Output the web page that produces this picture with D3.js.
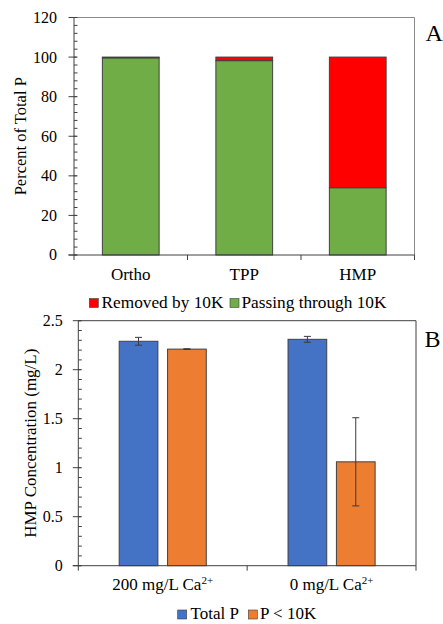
<!DOCTYPE html>
<html>
<head>
<meta charset="utf-8">
<script src="https://cdn.jsdelivr.net/npm/d3@7"></script>
<style>
  html, body { margin: 0; padding: 0; background: #fff; }
  svg { display: block; }
</style>
</head>
<body>
<svg id="fig" width="443" height="624"></svg>
<script>
// Panel A: share of total P passing through / removed by a 10K membrane
const phosphateForms = ["Ortho", "TPP", "HMP"];
const passingPct = [99.6, 98.2, 34.0];
const removedPct = [0.4, 1.8, 66.0];
const seriesA = ["Removed by 10K", "Passing through 10K"];

// Panel B: HMP concentration with and without calcium
const calciumLevels = ["200 mg/L Ca", "0 mg/L Ca"];
const calciumSup = "2+";
const totalP = [2.29, 2.31];
const totalPErr = [0.04, 0.03];
const pBelow10K = [2.21, 1.06];
const pBelow10KErr = [0.004, 0.45];
const seriesB = ["Total P", "P < 10K"];

const yTicksA = [0, 20, 40, 60, 80, 100, 120];
const yTicksB = [0, 0.5, 1, 1.5, 2, 2.5];

const SERIF = "'Liberation Serif', 'Times New Roman', serif";
const svg = d3.select("#fig");
const TICK_FONT = 16;
const LABEL_FONT = 17;
const axisColor = "#404040";
const barStroke = "#404040";

// all labels share one serif face
function label(g, txt, size) {
  return g.append("text").style("font-family", SERIF).attr("font-size", size || LABEL_FONT)
    .attr("fill", "#000").text(txt);
}

function drawYAxis(g, y, x0, ticks, minorStep, fmt, labelGap) {
  const [d0, d1] = y.domain();
  const minor = d3.range(d0, d1 + 1e-9, minorStep);
  g.selectAll(".minor").data(minor).join("line")
    .attr("x1", x0).attr("x2", x0 + 3.5)
    .attr("y1", d => y(d)).attr("y2", d => y(d))
    .attr("stroke", axisColor).attr("stroke-width", 1);
  g.selectAll(".major").data(ticks).join("line")
    .attr("x1", x0 - 5.5).attr("x2", x0 + 2.5)
    .attr("y1", d => y(d)).attr("y2", d => y(d))
    .attr("stroke", axisColor).attr("stroke-width", 1);
  g.selectAll(".ylab").data(ticks).join("text")
    .style("font-family", SERIF)
    .attr("x", x0 - labelGap).attr("y", d => y(d)).attr("dy", "0.34em")
    .attr("text-anchor", "end").attr("font-size", TICK_FONT).attr("fill", "#000")
    .text(fmt);
  g.append("line").attr("x1", x0).attr("x2", x0)
    .attr("y1", y(d0)).attr("y2", y(d1))
    .attr("stroke", axisColor).attr("stroke-width", 1);
}

// ---------- Panel A ----------
{
  const L = 74, R = 414.5, T = 17.5, B = 255;
  const g = svg.append("g");
  const x = d3.scaleBand().domain(phosphateForms).range([L, R])
    .paddingInner(0.5).paddingOuter(0.25);
  const y = d3.scaleLinear().domain([0, 120]).range([B, T]);

  // frame (top and right)
  g.append("path")
    .attr("d", `M${L},${T}H${R}V${B}`)
    .attr("fill", "none").attr("stroke", "#8a8a8a").attr("stroke-width", 1);

  const stack = d3.stack().keys([0, 1])
    .value((d, k) => k === 0 ? d.pass : d.rem)(
      phosphateForms.map((c, i) => ({ cat: c, pass: passingPct[i], rem: removedPct[i] })));
  const colorsA = ["#70AD47", "#FF0000"];
  stack.forEach((layer, li) => {
    g.selectAll(".s" + li).data(layer).join("rect")
      .attr("x", d => x(d.data.cat))
      .attr("width", x.bandwidth())
      .attr("y", d => y(d[1]))
      .attr("height", d => y(d[0]) - y(d[1]))
      .attr("fill", colorsA[li])
      .attr("stroke", barStroke).attr("stroke-width", 1);
  });

  drawYAxis(g, y, L, yTicksA, 4, d => d, 17);

  // x axis with category boundary ticks
  const step = x.step();
  const bounds = d3.range(phosphateForms.length + 1).map(i => L + i * step);
  g.append("line").attr("x1", L - 5.5).attr("x2", R).attr("y1", B).attr("y2", B)
    .attr("stroke", axisColor);
  g.selectAll(".xt").data(bounds).join("line")
    .attr("x1", d => d).attr("x2", d => d).attr("y1", B).attr("y2", B + 5)
    .attr("stroke", axisColor);
  phosphateForms.forEach(c => {
    label(g, c).attr("x", x(c) + x.bandwidth() / 2).attr("y", 280)
      .attr("text-anchor", "middle");
  });

  label(g, "Percent of Total P", 16.5)
    .attr("transform", `translate(26,${(T + B) / 2}) rotate(-90)`)
    .attr("text-anchor", "middle");

  label(g, "A", 24).attr("x", 425.5).attr("y", 40.5);

  // legend
  const legA = [
    { sq: 89.3, tx: 101.5, c: colorsA[1], t: seriesA[0] },
    { sq: 230, tx: 241.5, c: colorsA[0], t: seriesA[1] }
  ];
  legA.forEach(d => {
    g.append("rect").attr("x", d.sq).attr("y", 298.5).attr("width", 9).attr("height", 9)
      .attr("fill", d.c).attr("stroke", barStroke).attr("stroke-width", 0.6);
    label(g, d.t, 17.3).attr("x", d.tx).attr("y", 308);
  });
}

// ---------- Panel B ----------
{
  const L = 78.3, R = 416, T = 320.7, B = 565.7;
  const g = svg.append("g");
  const x0 = d3.scaleBand().domain(calciumLevels).range([L, R]).padding(0);
  const x1 = d3.scaleBand().domain(seriesB).range([0, x0.bandwidth()])
    .paddingInner(0.2).paddingOuter(0.845);
  const y = d3.scaleLinear().domain([0, 2.5]).range([B, T]);
  const colorsB = ["#4472C4", "#ED7D31"];

  g.append("path")
    .attr("d", `M${L},${T}H${R}V${B}`)
    .attr("fill", "none").attr("stroke", axisColor).attr("stroke-width", 1);

  const rows = [];
  calciumLevels.forEach((c, i) => {
    rows.push({ cat: c, s: seriesB[0], v: totalP[i], e: totalPErr[i], col: colorsB[0] });
    rows.push({ cat: c, s: seriesB[1], v: pBelow10K[i], e: pBelow10KErr[i], col: colorsB[1] });
  });

  g.selectAll(".bar").data(rows).join("rect")
    .attr("x", d => x0(d.cat) + x1(d.s))
    .attr("width", x1.bandwidth())
    .attr("y", d => y(d.v))
    .attr("height", d => B - y(d.v))
    .attr("fill", d => d.col)
    .attr("stroke", barStroke).attr("stroke-width", 1);

  // error bars
  const cx = d => x0(d.cat) + x1(d.s) + x1.bandwidth() / 2;
  const eb = g.selectAll(".err").data(rows).join("g").attr("stroke", "#3a3a3a").attr("stroke-width", 1);
  eb.append("line").attr("x1", cx).attr("x2", cx)
    .attr("y1", d => y(d.v + d.e)).attr("y2", d => y(d.v - d.e));
  eb.append("line").attr("x1", d => cx(d) - 3.5).attr("x2", d => cx(d) + 3.5)
    .attr("y1", d => y(d.v + d.e)).attr("y2", d => y(d.v + d.e));
  eb.append("line").attr("x1", d => cx(d) - 3.5).attr("x2", d => cx(d) + 3.5)
    .attr("y1", d => y(d.v - d.e)).attr("y2", d => y(d.v - d.e));

  drawYAxis(g, y, L, yTicksB, 0.1, d => d, 15.5);

  const bounds = [L, L + x0.step(), R];
  g.append("line").attr("x1", L - 5.5).attr("x2", R).attr("y1", B).attr("y2", B)
    .attr("stroke", axisColor);
  g.selectAll(".xt").data(bounds).join("line")
    .attr("x1", d => d).attr("x2", d => d).attr("y1", B).attr("y2", B + 5)
    .attr("stroke", axisColor);
  calciumLevels.forEach(c => {
    const t = label(g, null).attr("x", x0(c) + x0.bandwidth() / 2).attr("y", 590)
      .attr("text-anchor", "middle");
    t.append("tspan").text(c);
    t.append("tspan").attr("font-size", 11).attr("dy", -6).text(calciumSup);
  });

  label(g, "HMP Concentration (mg/L)")
    .attr("transform", `translate(36,${(T + B) / 2}) rotate(-90)`)
    .attr("text-anchor", "middle");

  label(g, "B", 24).attr("x", 424.5).attr("y", 347.3);

  const legB = [
    { sq: 177.7, tx: 190.5, c: colorsB[0], t: seriesB[0] },
    { sq: 248.3, tx: 260, c: colorsB[1], t: seriesB[1] }
  ];
  legB.forEach(d => {
    g.append("rect").attr("x", d.sq).attr("y", 610).attr("width", 9).attr("height", 9)
      .attr("fill", d.c).attr("stroke", barStroke).attr("stroke-width", 0.6);
    label(g, d.t).attr("x", d.tx).attr("y", 619);
  });
}
</script>
</body>
</html>
